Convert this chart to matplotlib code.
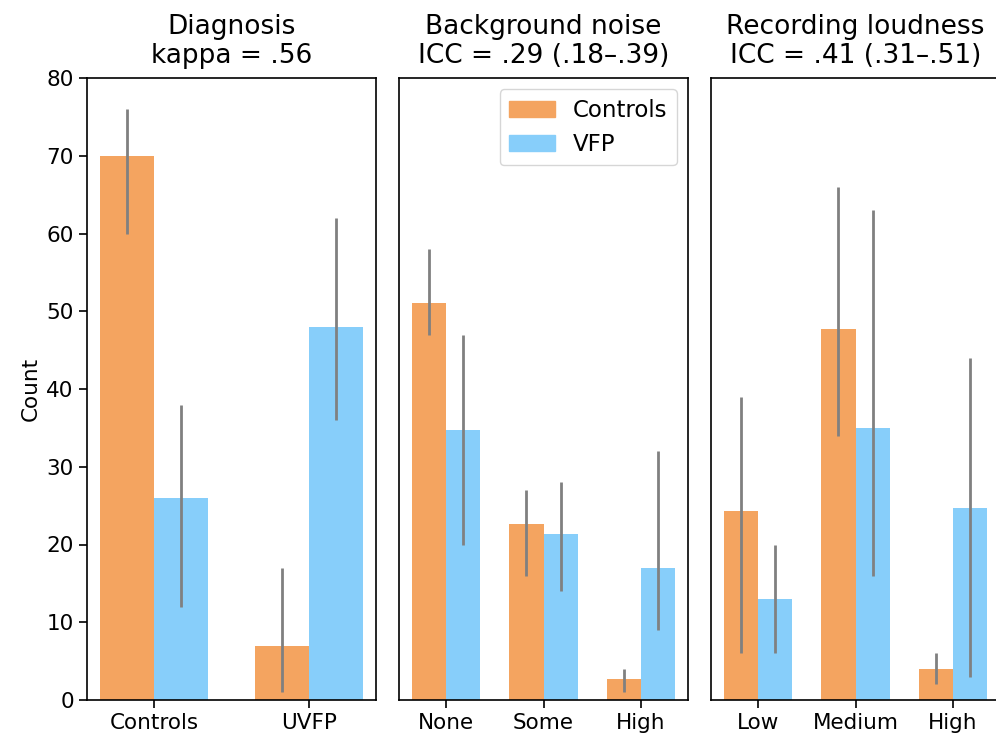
import numpy as np
import matplotlib
matplotlib.use("Agg")
from matplotlib import pyplot as plt
from matplotlib.patches import Patch

groups = ["Controls", "VFP"]
colors = ["#F4A460", "#87CEFA"]

#panel titles
titles = ["Diagnosis\nkappa = .56",
          "Background noise\nICC = .29 (.18\u2013.39)",
          "Recording loudness\nICC = .41 (.31\u2013.51)"]

#category labels per panel
cats_diag = ["Controls", "UVFP"]
cats_noise = ["None", "Some", "High"]
cats_loud = ["Low", "Medium", "High"]

#bar heights (controls, vfp)
diag_ctrl = [70, 7]
diag_vfp = [26, 48]
noise_ctrl = [51, 22.7, 2.65]
noise_vfp = [34.7, 21.35, 17]
loud_ctrl = [24.35, 47.7, 4.05]
loud_vfp = [13, 35, 24.7]

#error bar ranges (low, high)
diag_ctrl_lo, diag_ctrl_hi = [60, 1], [76, 17]
diag_vfp_lo, diag_vfp_hi = [12, 36], [38, 62]
noise_ctrl_lo, noise_ctrl_hi = [47, 16, 1], [58, 27, 4]
noise_vfp_lo, noise_vfp_hi = [20, 14, 9], [47, 28, 32]
loud_ctrl_lo, loud_ctrl_hi = [6, 34, 2], [39, 66, 6]
loud_vfp_lo, loud_vfp_hi = [6, 16, 3], [20, 63, 44]

panels = [
    (cats_diag, [diag_ctrl, diag_vfp], [(diag_ctrl_lo, diag_ctrl_hi), (diag_vfp_lo, diag_vfp_hi)]),
    (cats_noise, [noise_ctrl, noise_vfp], [(noise_ctrl_lo, noise_ctrl_hi), (noise_vfp_lo, noise_vfp_hi)]),
    (cats_loud, [loud_ctrl, loud_vfp], [(loud_ctrl_lo, loud_ctrl_hi), (loud_vfp_lo, loud_vfp_hi)]),
]

W, H = 996, 738
fig = plt.figure(figsize=(W / 100, H / 100), dpi=100)
lefts = [87, 399, 711]
aw = 289
bot, top = 700, 78

w = 0.35
for i, (cats, vals, errs) in enumerate(panels):
    ax = fig.add_axes([lefts[i] / W, (H - bot) / H, aw / W, (bot - top) / H])
    x = np.arange(len(cats))
    for g in range(2):
        xs = x + (g - 0.5) * w
        ax.bar(xs, vals[g], width=w, color=colors[g], align="center", zorder=1)
        lo, hi = errs[g]
        ax.vlines(xs, lo, hi, color="gray", lw=2.0, zorder=2)
    ax.set_ylim(0, 80)
    ax.set_xticks(x)
    ax.set_xticklabels(cats, fontsize=15.5)
    ax.tick_params(axis="both", labelsize=15.5, width=1.2, length=6)
    for s in ax.spines.values():
        s.set_linewidth(1.2)
    ax.set_title(titles[i], fontsize=19, linespacing=1.15, pad=11)
    if i == 0:
        ax.set_ylabel("Count", fontsize=15.5)
    else:
        ax.set_yticks([])
    if i == 1:
        handles = [Patch(color=colors[0]), Patch(color=colors[1])]
        ax.legend(handles, groups, loc="upper right", fontsize=16.5,
                  handlelength=2.0, handleheight=0.7)

fig.savefig("out.png", dpi=100)
